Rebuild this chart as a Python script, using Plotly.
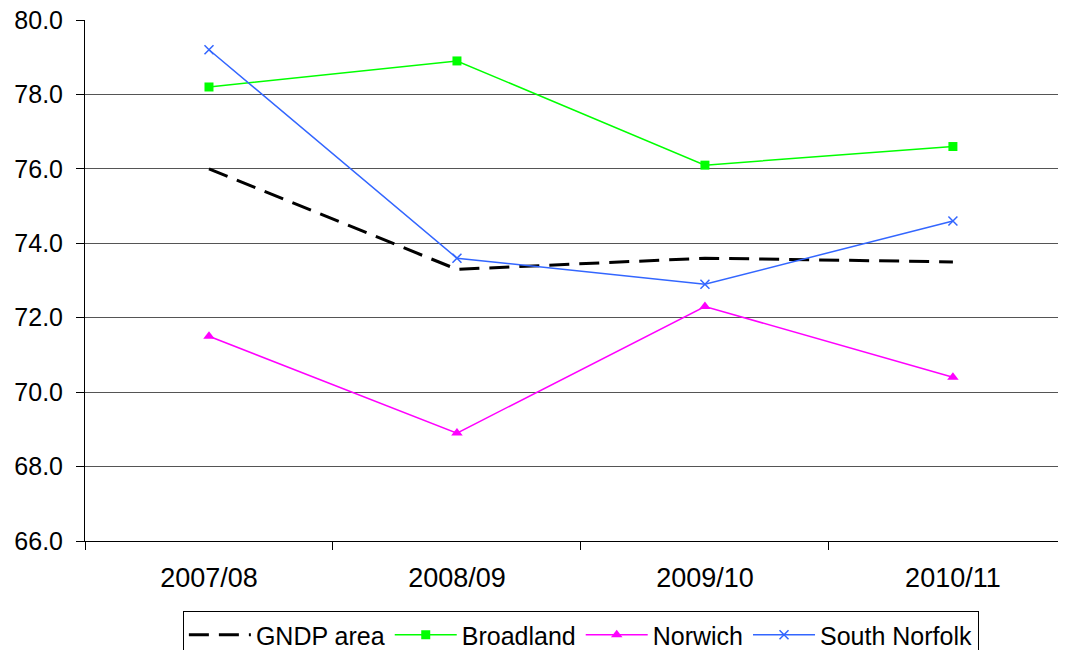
import plotly.graph_objects as go

years = ["2007/08", "2008/09", "2009/10", "2010/11"]
gndp = [76.0, 73.3, 73.6, 73.5]
broadland = [78.2, 78.9, 76.1, 76.6]
norwich = [71.5, 68.9, 72.3, 70.4]
south_norfolk = [79.2, 73.6, 72.9, 74.6]

fig = go.Figure()
fig.add_trace(go.Scatter(x=years, y=gndp, name="GNDP area", mode="lines",
                         line=dict(color="black", width=3, dash="20px,10px")))
fig.add_trace(go.Scatter(x=years, y=broadland, name="Broadland", mode="lines+markers",
                         line=dict(color="#00FF00", width=1.5),
                         marker=dict(symbol="square", size=9, color="#00FF00")))
fig.add_trace(go.Scatter(x=years, y=norwich, name="Norwich", mode="lines+markers",
                         line=dict(color="#FF00FF", width=1.5),
                         marker=dict(symbol="triangle-up", size=10, color="#FF00FF")))
fig.add_trace(go.Scatter(x=years, y=south_norfolk, name="South Norfolk", mode="lines+markers",
                         line=dict(color="#3366FF", width=1.5),
                         marker=dict(symbol="x-thin", size=9, color="#3366FF",
                                     line=dict(color="#3366FF", width=1.5))))

# the page body adds an 8px margin, so the figure is 8px smaller and margins shifted
W, H = 1058, 642
fig.update_layout(
    width=W, height=H,
    margin=dict(l=77, r=1, t=12, b=109, autoexpand=False),
    plot_bgcolor="white", paper_bgcolor="white",
    font=dict(family="Liberation Sans, Arial, sans-serif", size=25, color="black"),
    showlegend=True,
    legend=dict(orientation="h", x=0.506, xanchor="center",
                yref="container", y=(H - 603) / H, yanchor="top",
                bordercolor="black", borderwidth=1, font=dict(size=25),
                itemwidth=62, tracegroupgap=0),
)
fig.update_xaxes(type="category", range=[-0.5, 3.452], tickson="boundaries",
                 ticks="outside", ticklen=8, tickcolor="black",
                 tickfont=dict(size=27),
                 ticklabelstandoff=13, automargin=False,
                 showline=True, linecolor="black", linewidth=1,
                 showgrid=False, zeroline=False)
fig.update_yaxes(range=[66, 80], dtick=2, tick0=66, tickformat=".1f",
                 ticks="outside", ticklen=8, tickcolor="black",
                 tickfont=dict(size=25), ticklabeloverflow="allow",
                 ticklabelstandoff=8, automargin=False,
                 showline=True, linecolor="black", linewidth=1,
                 showgrid=True, gridcolor="#555555", gridwidth=1, zeroline=False)

fig.write_html("out.html")
